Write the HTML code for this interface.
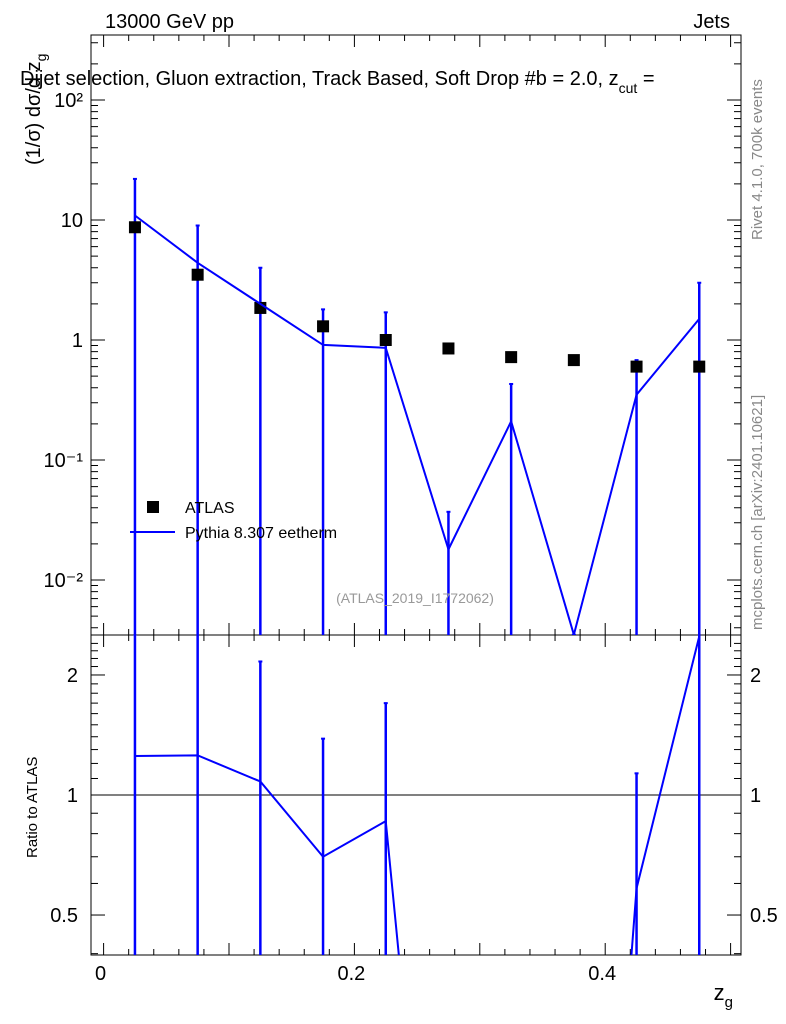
<!DOCTYPE html>
<html><head><meta charset="utf-8"><style>
html,body{margin:0;background:#fff;overflow:hidden;width:786px;height:1024px;}
svg{display:block;}
svg text{font-family:"Liberation Sans",sans-serif;}
</style></head><body>
<svg id="c" width="786" height="1024" xmlns="http://www.w3.org/2000/svg">
<defs>
<clipPath id="cm"><rect x="91" y="35" width="650" height="600"/></clipPath>
<clipPath id="cr"><rect x="91" y="635" width="650" height="320"/></clipPath>
</defs>
<rect x="91" y="35" width="650" height="600" fill="none" stroke="#000"/>
<rect x="91" y="635" width="650" height="320" fill="none" stroke="#000"/>
<g id="ticks"></g>
<g id="main" clip-path="url(#cm)"></g>
<g id="ratio" clip-path="url(#cr)"></g>
<text x="105" y="28" font-size="20">13000 GeV pp</text>
<text x="730" y="28" font-size="20" text-anchor="end">Jets</text>
<text x="20" y="85" font-size="20">Dijet selection, Gluon extraction, Track Based, Soft Drop #b = 2.0, z<tspan dy="8" font-size="14">cut</tspan><tspan dy="-8"> =</tspan></text>
<text transform="translate(40,165) rotate(-90)" font-size="20">(1/σ) dσ/d z<tspan dy="6" font-size="14">g</tspan></text>
<text transform="translate(37,858) rotate(-90)" font-size="15">Ratio to ATLAS</text>
<text x="733" y="1000" font-size="22" text-anchor="end">z<tspan dy="7" font-size="15">g</tspan></text>
<text transform="translate(762,240) rotate(-90)" font-size="15" fill="#888">Rivet 4.1.0, 700k events</text>
<text transform="translate(762,630) rotate(-90)" font-size="15" fill="#888">mcplots.cern.ch [arXiv:2401.10621]</text>
<text x="415" y="603" font-size="14" fill="#999" text-anchor="middle">(ATLAS_2019_I1772062)</text>
<rect x="147" y="501" width="12" height="12" fill="#000"/>
<text x="185" y="513" font-size="16">ATLAS</text>
<line x1="130" y1="532" x2="175" y2="532" stroke="#00f" stroke-width="2"/>
<text x="185" y="538" font-size="16">Pythia 8.307 eetherm</text>
</svg>
<script>
const xCenters=[0.025,0.075,0.125,0.175,0.225,0.275,0.325,0.375,0.425,0.475];
const atlas=[8.7,3.5,1.85,1.3,1.0,0.85,0.72,0.68,0.6,0.6];
const pythia=[10.9,4.4,2.0,0.91,0.86,0.018,0.21,0.0035,0.35,1.5];
const pythiaUp=[22,9,4,1.8,1.7,0.037,0.43,0.0035,0.68,3];
const pythiaDown=[0.0001,0.0001,0.0001,0.0001,0.0001,0.0001,0.0001,0.0001,0.0001,0.0001];
const xTicks=[0,0.2,0.4];
const yTickLabels=["10⁻²","10⁻¹","1","10","10²"];
const ratioTicks=[0.5,1,2];
const NS="http://www.w3.org/2000/svg";
const X=v=>103.6+v*1254;
const Y=v=>340-120*Math.log10(v);
const R=v=>795-398.7*Math.log10(v);
function mk(p,t,a){const e=document.createElementNS(NS,t);for(const k in a)e.setAttribute(k,a[k]);p.appendChild(e);return e;}
const main=document.getElementById('main'),ratio=document.getElementById('ratio'),tk=document.getElementById('ticks');
for(let v=0;v<=0.5001;v+=0.02){const maj=Math.abs(v*10-Math.round(v*10))<1e-6;const L=maj?12:6;
 for(const [y0,d] of [[635,-1],[35,1],[955,-1],[635,1]]){const l=mk(tk,'line',{x1:X(v),x2:X(v),y1:y0,y2:y0+d*L,stroke:'#000'});}}
xTicks.forEach(v=>{const t=mk(tk,'text',{x:X(v)-3,y:980,'font-size':20,'text-anchor':'middle'});t.textContent=v===0?'0':String(v);});
for(let e=-3;e<=2;e++)for(let m=1;m<10;m++){const v=m*Math.pow(10,e);const y=Y(v);if(y<35||y>635)continue;const L=m===1?14:7;
 for(const [x0,d] of [[91,1],[741,-1]]){const l=mk(tk,'line',{x1:x0,x2:x0+d*L,y1:y,y2:y,stroke:'#000'});}}
yTickLabels.forEach((s,i)=>{const t=mk(tk,'text',{x:83,y:Y(Math.pow(10,i-2))+7,'font-size':20,'text-anchor':'end'});t.textContent=s;});
for(let v=0.4;v<=2.5;v+=0.1){const y=R(v);if(y<635||y>955)continue;const maj=[0.5,1,2].some(a=>Math.abs(a-v)<1e-6);const L=maj?14:7;
 for(const [x0,d] of [[91,1],[741,-1]]){const l=mk(tk,'line',{x1:x0,x2:x0+d*L,y1:y,y2:y,stroke:'#000'});}}
ratioTicks.forEach(v=>{for(const [x,a] of [[78,'end'],[750,'start']]){const t=mk(tk,'text',{x:x,y:R(v)+7,'font-size':20,'text-anchor':a});t.textContent=String(v);}});
const ref=mk(ratio,'line',{x1:91,x2:741,y1:R(1),y2:R(1),stroke:'#000'});
xCenters.forEach((x,i)=>{
 const e=mk(main,'line',{x1:X(x),x2:X(x),y1:Y(pythiaUp[i]),y2:Y(pythiaDown[i]),stroke:'#00f','stroke-width':2.5});
 const c=mk(main,'line',{x1:X(x)-2,x2:X(x)+2,y1:Y(pythiaUp[i]),y2:Y(pythiaUp[i]),stroke:'#00f','stroke-width':2});
 const r=mk(main,'rect',{x:X(x)-6,y:Y(atlas[i])-6,width:12,height:12,fill:'#000'});
});
const pl=mk(main,'polyline',{points:xCenters.map((x,i)=>X(x)+','+Math.min(Y(pythia[i]),2000)).join(' '),fill:'none',stroke:'#00f','stroke-width':2});

xCenters.forEach((x,i)=>{
 const cen=pythia[i]/atlas[i];if(R(cen)>955)return;
 const up=pythiaUp[i]/atlas[i],dn=pythiaDown[i]/atlas[i];
 const e=mk(ratio,'line',{x1:X(x),x2:X(x),y1:R(up),y2:R(dn),stroke:'#00f','stroke-width':2.5});
 const c=mk(ratio,'line',{x1:X(x)-2,x2:X(x)+2,y1:R(up),y2:R(up),stroke:'#00f','stroke-width':2});
});
const rl=mk(ratio,'polyline',{points:xCenters.map((x,i)=>X(x)+','+Math.min(R(pythia[i]/atlas[i]),3000)).join(' '),fill:'none',stroke:'#00f','stroke-width':2});

</script>
</body></html>
